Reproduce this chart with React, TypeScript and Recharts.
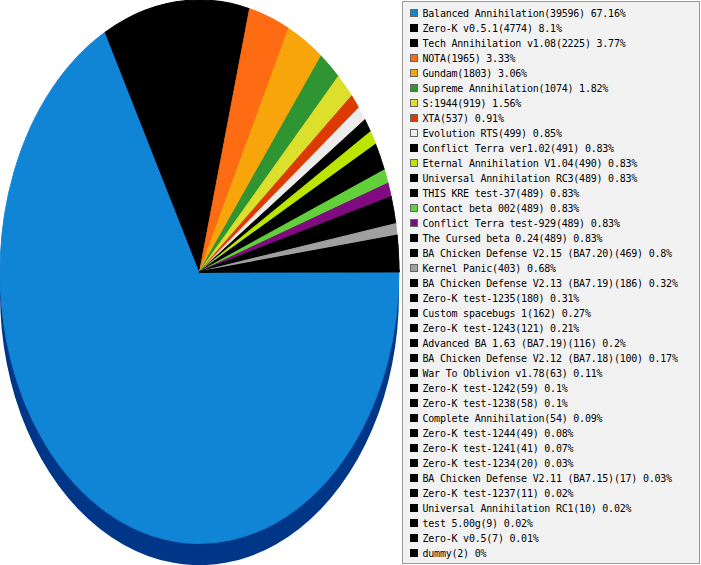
import React from 'react';
import { PieChart, Pie, Cell } from 'recharts';

const modNames: string[] = [
  'Balanced Annihilation', 'Zero-K v0.5.1', 'Tech Annihilation v1.08', 'NOTA', 'Gundam',
  'Supreme Annihilation', 'S:1944', 'XTA', 'Evolution RTS', 'Conflict Terra ver1.02',
  'Eternal Annihilation V1.04', 'Universal Annihilation RC3', 'THIS KRE test-37', 'Contact beta 002',
  'Conflict Terra test-929', 'The Cursed beta 0.24', 'BA Chicken Defense V2.15 (BA7.20)', 'Kernel Panic',
  'BA Chicken Defense V2.13 (BA7.19)', 'Zero-K test-1235', 'Custom spacebugs 1', 'Zero-K test-1243',
  'Advanced BA 1.63 (BA7.19)', 'BA Chicken Defense V2.12 (BA7.18)', 'War To Oblivion v1.78',
  'Zero-K test-1242', 'Zero-K test-1238', 'Complete Annihilation', 'Zero-K test-1244', 'Zero-K test-1241',
  'Zero-K test-1234', 'BA Chicken Defense V2.11 (BA7.15)', 'Zero-K test-1237', 'Universal Annihilation RC1',
  'test 5.00g', 'Zero-K v0.5', 'dummy',
];

const gameCounts: number[] = [
  39596, 4774, 2225, 1965, 1803, 1074, 919, 537, 499, 491, 490, 489, 489, 489, 489, 489, 469, 403,
  186, 180, 162, 121, 116, 100, 63, 59, 58, 54, 49, 41, 20, 17, 11, 10, 9, 7, 2,
];

const percentLabels: string[] = [
  '67.16%', '8.1%', '3.77%', '3.33%', '3.06%', '1.82%', '1.56%', '0.91%', '0.85%', '0.83%',
  '0.83%', '0.83%', '0.83%', '0.83%', '0.83%', '0.83%', '0.8%', '0.68%', '0.32%', '0.31%',
  '0.27%', '0.21%', '0.2%', '0.17%', '0.11%', '0.1%', '0.1%', '0.09%', '0.08%', '0.07%',
  '0.03%', '0.03%', '0.02%', '0.02%', '0.02%', '0.01%', '0%',
];

const sliceColors: string[] = [
  '#1084d5', '#000000', '#000000', '#fd6c12', '#f8a50b', '#2e9532', '#dcdf2b', '#dc3a01',
  '#ececec', '#000000', '#bce600', '#000000', '#000000', '#61d03a', '#800b80', '#000000',
  '#000000', '#a0a0a0',
  '#000000', '#000000', '#000000', '#000000', '#000000', '#000000', '#000000', '#000000',
  '#000000', '#000000', '#000000', '#000000', '#000000', '#000000', '#000000', '#000000',
  '#000000', '#000000', '#000000',
];

const shadowData = [{ name: 'shadow', value: 1 }];
const shadowColor = '#003687';

const pieData = modNames.map((name, i) => ({ name, value: gameCounts[i] }));

const SCALE_Y = 271 / 199;

export default function App() {
  return (
    <div style={{ position: 'absolute', left: 0, top: 0, width: 701, height: 565, overflow: 'hidden', background: '#fff' }}>
      <div style={{ position: 'absolute', left: 0, top: 0, width: 400, height: 420, transform: `scaleY(${SCALE_Y})`, transformOrigin: '0 0' }}>
        <PieChart width={400} height={420} margin={{ top: 0, right: 0, bottom: 0, left: 0 }}>
          <Pie
            data={shadowData}
            dataKey="value"
            cx={199.5}
            cy={215.5}
            outerRadius={199.5}
            innerRadius={0}
            startAngle={0}
            endAngle={-360}
            stroke="none"
            isAnimationActive={false}
          >
            <Cell fill={shadowColor} />
          </Pie>
          <Pie
            data={pieData}
            dataKey="value"
            nameKey="name"
            cx={199.5}
            cy={199.5}
            outerRadius={199.5}
            innerRadius={0}
            startAngle={0}
            endAngle={-360}
            isAnimationActive={false}
          >
            {pieData.map((d, i) => (
              <Cell key={d.name + i} fill={sliceColors[i]} stroke={sliceColors[i]} strokeWidth={0.8} />
            ))}
          </Pie>
        </PieChart>
      </div>
      <div
        style={{
          position: 'absolute',
          left: 402,
          top: 1,
          width: 296,
          height: 561,
          background: '#f2f2f2',
          border: '1px solid #999999',
          fontFamily: '"DejaVu Sans Mono", monospace',
          fontSize: 10,
          letterSpacing: -0.22,
          color: '#000',
        }}
      >
        {modNames.map((name, i) => (
          <div
            key={name + i}
            style={{ position: 'absolute', left: 0, top: 4 + i * 15, height: 15, lineHeight: '15px', whiteSpace: 'nowrap' }}
          >
            <span
              style={{
                position: 'absolute',
                left: 7,
                top: 3,
                width: 6,
                height: 6,
                background: sliceColors[i],
                border: '1px solid ' + (sliceColors[i] === '#000000' ? '#000' : '#666'),
              }}
            />
            <span style={{ position: 'absolute', left: 19.5, top: 0 }}>
              {`${name}(${gameCounts[i]}) ${percentLabels[i]}`}
            </span>
          </div>
        ))}
      </div>
    </div>
  );
}
